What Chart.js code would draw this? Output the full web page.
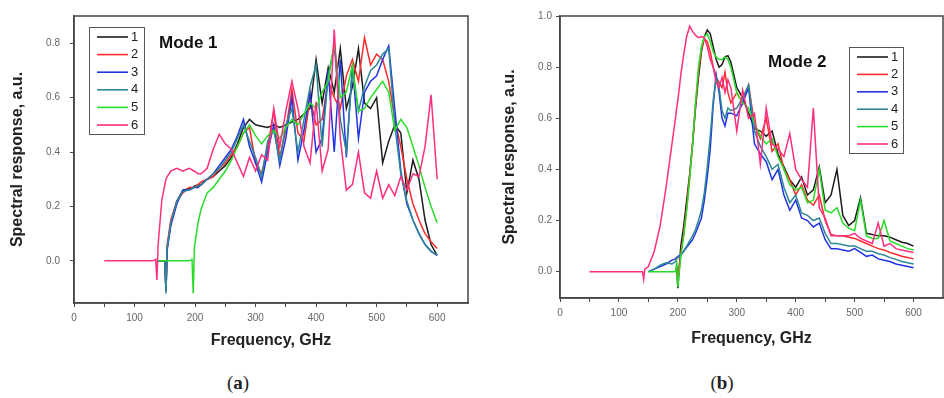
<!DOCTYPE html>
<html lang="en">
<head>
<meta charset="utf-8"/>
<title>Spectral response, Mode 1 and Mode 2</title>
<script src="https://cdn.jsdelivr.net/npm/chart.js"></script>
<style>
    body {
        margin: 0;
        background: #fff;
        font-family: 'Liberation Sans', Arial, sans-serif;
    }
    #page {
        position: relative;
        width: 944px;
        height: 398px;
        overflow: hidden;
    }
    .panel {
        position: absolute;
        top: 0;
    }
    #panelA { left: 0; }
    #panelB { left: 470px; }
    .caption {
        position: absolute;
        top: 372px;
        transform: translateX(-50%);
        font-family: 'Liberation Serif', 'DejaVu Serif', serif;
        font-size: 19px;
        color: #222;
    }
</style>
</head>
<body>
<div id="page">
    <div class="panel" id="panelA"><canvas id="chartA" width="470" height="360"></canvas></div>
    <div class="panel" id="panelB"><canvas id="chartB" width="474" height="360"></canvas></div>
    <div class="caption" style="left:238px">(<b>a</b>)</div>
    <div class="caption" style="left:722px">(<b>b</b>)</div>
</div>

<script>
// ---- data ----
const seriesNames = ['1', '2', '3', '4', '5', '6'];
const freqTicks = [0, 50, 100, 150, 200, 250, 300, 350, 400, 450, 500, 550, 600];
const respTicksA = [0, 0.2, 0.4, 0.6, 0.8];
const respTicksB = [0, 0.2, 0.4, 0.6, 0.8, 1.0];

// Mode 1 frequency grid (GHz); series that start later are aligned to its end
const freqA = [50, 100, 130, 135, 137, 139, 145, 150, 152, 154, 160, 170, 180, 190, 195, 197, 199, 205, 210,
    220, 230, 240, 250, 260, 270, 280, 290, 300, 310, 320, 330, 340, 350, 360, 370, 380, 390, 400,
    410, 420, 430, 440, 450, 460, 470, 480, 490, 500, 510, 520, 530, 540, 550, 560, 570, 580, 590, 600];

const modeA1 = [0, 0, 0, -0.11, 0.05, 0.14, 0.22, 0.26, 0.265, 0.27, 0.27, 0.275, 0.28, 0.28,
    0.30, 0.31, 0.33, 0.35, 0.38, 0.43, 0.49, 0.52, 0.50, 0.495, 0.49, 0.50, 0.49, 0.50, 0.51, 0.52, 0.54, 0.56, 0.74,
    0.58, 0.71, 0.62, 0.78, 0.56, 0.64, 0.78, 0.58, 0.56, 0.60, 0.36, 0.44, 0.50, 0.47, 0.25, 0.37, 0.30, 0.15, 0.06, 0.02];
const modeA2 = [0, 0, 0, -0.10, 0.06, 0.15, 0.22, 0.25, 0.27, 0.27, 0.27, 0.27, 0.28, 0.29,
    0.30, 0.31, 0.34, 0.36, 0.39, 0.42, 0.47, 0.49, 0.36, 0.32, 0.42, 0.55, 0.38, 0.48, 0.63, 0.47, 0.44, 0.60, 0.50,
    0.52, 0.66, 0.60, 0.56, 0.68, 0.74, 0.66, 0.82, 0.72, 0.76, 0.74, 0.66, 0.52, 0.42, 0.30, 0.21, 0.15, 0.10, 0.07, 0.045];
const modeA3 = [0, 0, 0, -0.11, 0.04, 0.13, 0.21, 0.26, 0.26, 0.265, 0.27, 0.27, 0.27, 0.28,
    0.30, 0.32, 0.35, 0.38, 0.41, 0.46, 0.52, 0.42, 0.36, 0.29, 0.40, 0.50, 0.35, 0.45, 0.60, 0.37, 0.48, 0.62, 0.40,
    0.45, 0.70, 0.40, 0.74, 0.38, 0.72, 0.45, 0.62, 0.66, 0.68, 0.74, 0.79, 0.56, 0.33, 0.21, 0.15, 0.10, 0.06, 0.035, 0.02];
const modeA4 = [0, 0, 0, -0.12, 0.05, 0.14, 0.22, 0.255, 0.26, 0.265, 0.27, 0.27, 0.275, 0.28,
    0.30, 0.32, 0.34, 0.37, 0.40, 0.45, 0.50, 0.44, 0.38, 0.31, 0.44, 0.48, 0.37, 0.50, 0.56, 0.40, 0.52, 0.64, 0.72,
    0.42, 0.68, 0.79, 0.52, 0.40, 0.70, 0.55, 0.64, 0.70, 0.72, 0.76, 0.78, 0.50, 0.32, 0.22, 0.15, 0.10, 0.06, 0.035, 0.022];
const modeA5 = [0, 0, 0, 0, 0, 0, 0, 0, 0, 0.005, -0.12, 0.05, 0.14, 0.19,
    0.25, 0.27, 0.30, 0.33, 0.37, 0.42, 0.47, 0.50, 0.46, 0.43, 0.46, 0.48, 0.45, 0.49, 0.52, 0.50, 0.54, 0.58, 0.56,
    0.62, 0.66, 0.80, 0.60, 0.62, 0.72, 0.55, 0.56, 0.60, 0.63, 0.66, 0.62, 0.48, 0.52, 0.49, 0.42, 0.35, 0.27, 0.20, 0.14];
const modeA6 = [0, 0, 0, 0.005, -0.07, 0.06, 0.22, 0.28, 0.30, 0.31, 0.33, 0.34, 0.33, 0.34, 0.335, 0.33, 0.33, 0.32, 0.32,
    0.34, 0.41, 0.465, 0.43, 0.41, 0.36, 0.31, 0.38, 0.33, 0.39, 0.37, 0.56, 0.42, 0.55, 0.66, 0.56, 0.42, 0.36, 0.585,
    0.33, 0.41, 0.85, 0.45, 0.26, 0.28, 0.40, 0.25, 0.23, 0.33, 0.23, 0.28, 0.24, 0.31, 0.26, 0.32, 0.31, 0.42, 0.61, 0.30];

// Mode 2 frequency grid (GHz)
const freqB = [50, 100, 140, 142, 144, 150, 160, 170, 180, 190, 196, 198, 200,
    205, 210, 215, 220, 225, 230, 235, 240, 245, 250, 255, 260, 265, 270, 275, 280, 285, 290,
    300, 310, 320, 330, 340, 350, 360, 370, 380, 390, 400, 410, 420, 430, 440, 450, 460, 470, 480, 490,
    500, 510, 520, 530, 540, 550, 560, 570, 580, 590, 600];

const modeB1 = [0, 0.02, -0.065,
    0.10, 0.18, 0.28, 0.38, 0.50, 0.64, 0.76, 0.86, 0.92, 0.945, 0.93, 0.88, 0.83, 0.80, 0.81, 0.84, 0.845, 0.82,
    0.72, 0.68, 0.62, 0.56, 0.55, 0.53, 0.55, 0.46, 0.41, 0.36, 0.33, 0.37, 0.30, 0.32, 0.41, 0.27, 0.30, 0.40, 0.22, 0.18,
    0.20, 0.29, 0.15, 0.145, 0.14, 0.14, 0.135, 0.125, 0.115, 0.11, 0.10];
const modeB2 = [0, 0.01, -0.03,
    0.07, 0.15, 0.25, 0.37, 0.50, 0.65, 0.78, 0.87, 0.91, 0.90, 0.86, 0.80, 0.76, 0.74, 0.72, 0.78, 0.70, 0.66,
    0.70, 0.66, 0.73, 0.58, 0.52, 0.60, 0.47, 0.50, 0.40, 0.36, 0.30, 0.34, 0.28, 0.26, 0.30, 0.20, 0.145, 0.14, 0.14, 0.135,
    0.13, 0.12, 0.11, 0.10, 0.09, 0.085, 0.075, 0.068, 0.06, 0.055, 0.05];
const modeB3 = [0, 0.01, 0.02, 0.03, 0.045, 0.05, 0.055, 0.06,
    0.065, 0.08, 0.095, 0.11, 0.125, 0.15, 0.18, 0.21, 0.28, 0.37, 0.48, 0.65, 0.77, 0.70, 0.60, 0.57, 0.62, 0.62,
    0.61, 0.66, 0.72, 0.50, 0.46, 0.43, 0.36, 0.40, 0.30, 0.24, 0.28, 0.21, 0.20, 0.175, 0.19, 0.125, 0.09, 0.09, 0.085, 0.08,
    0.09, 0.075, 0.06, 0.065, 0.05, 0.045, 0.04, 0.03, 0.025, 0.02, 0.015];
const modeB4 = [0, 0.01, 0.025, 0.035, 0.03, 0.04, 0.05, 0.055,
    0.065, 0.08, 0.10, 0.12, 0.14, 0.165, 0.20, 0.24, 0.31, 0.41, 0.53, 0.67, 0.76, 0.72, 0.63, 0.60, 0.64, 0.63,
    0.64, 0.68, 0.73, 0.55, 0.49, 0.45, 0.40, 0.42, 0.33, 0.27, 0.30, 0.23, 0.22, 0.20, 0.21, 0.15, 0.11, 0.11, 0.105, 0.10,
    0.10, 0.09, 0.08, 0.08, 0.07, 0.065, 0.055, 0.048, 0.04, 0.035, 0.03];
const modeB5 = [0, 0, 0, 0, 0, 0, 0.03, -0.06,
    0.06, 0.14, 0.24, 0.36, 0.50, 0.66, 0.80, 0.88, 0.92, 0.93, 0.90, 0.86, 0.84, 0.83, 0.83, 0.84, 0.83, 0.80,
    0.70, 0.66, 0.64, 0.58, 0.53, 0.50, 0.52, 0.45, 0.40, 0.34, 0.32, 0.33, 0.27, 0.28, 0.40, 0.24, 0.23, 0.25, 0.19, 0.17,
    0.16, 0.28, 0.14, 0.13, 0.13, 0.20, 0.12, 0.11, 0.10, 0.09, 0.085];
const modeB6 = [0, 0, 0, -0.03, 0.01, 0.02, 0.08, 0.18, 0.33, 0.50, 0.60, 0.64, 0.67,
    0.77, 0.85, 0.92, 0.96, 0.94, 0.925, 0.915, 0.92, 0.915, 0.88, 0.83, 0.80, 0.74, 0.72, 0.76, 0.70, 0.75, 0.72,
    0.55, 0.71, 0.60, 0.62, 0.42, 0.64, 0.50, 0.48, 0.45, 0.54, 0.40, 0.36, 0.33, 0.64, 0.25, 0.21, 0.14, 0.14, 0.14, 0.14,
    0.15, 0.13, 0.12, 0.11, 0.19, 0.10, 0.11, 0.09, 0.085, 0.08, 0.075];

// ---- drawing ----
const lineColors = ['#1c1c1c', '#ff2b2b', '#2233e6', '#2f8796', '#27dd27', '#ff2e7e'];
const family = "'Liberation Sans', Arial, sans-serif";

function toPoints(freq, vals) {
    // a series shorter than the grid starts later, so it lines up with the grid's end
    const off = freq.length - vals.length;
    return vals.map((v, i) => ({x: freq[off + i], y: v}));
}

// frame around the plot, boxed legend and the "Mode" label
const panelDecor = {
    id: 'panelDecor',
    afterDatasetsDraw(chart, args, opts) {
        const ctx = chart.ctx;
        const a = chart.chartArea;
        ctx.save();
        ctx.strokeStyle = '#454545';
        ctx.lineWidth = 1.5;
        ctx.strokeRect(a.left, a.top, a.right - a.left, a.bottom - a.top);

        const L = opts.legend;
        ctx.fillStyle = '#fff';
        ctx.fillRect(L.x, L.y, L.w, L.h);
        ctx.strokeStyle = '#555';
        ctx.lineWidth = 1;
        ctx.strokeRect(L.x + 0.5, L.y + 0.5, L.w, L.h);
        ctx.font = '13px ' + family;
        ctx.textBaseline = 'middle';
        chart.data.datasets.forEach((ds, i) => {
            const y = L.y + 10 + i * L.step;
            ctx.strokeStyle = ds.borderColor;
            ctx.lineWidth = 1.6;
            ctx.beginPath();
            ctx.moveTo(L.x + 8, y);
            ctx.lineTo(L.x + 39, y);
            ctx.stroke();
            ctx.fillStyle = '#222';
            ctx.fillText(ds.label, L.x + 42, y);
        });

        ctx.font = 'bold 17px ' + family;
        ctx.textBaseline = 'alphabetic';
        ctx.fillStyle = '#111';
        ctx.fillText(opts.mode.text, opts.mode.x, opts.mode.y);
        ctx.restore();
    }
};

function makeChart(id, freq, series, cfg) {
    new Chart(document.getElementById(id), {
        type: 'line',
        data: {
            datasets: series.map((vals, i) => ({
                label: seriesNames[i],
                data: toPoints(freq, vals),
                borderColor: lineColors[i],
                borderWidth: 1.5,
                pointRadius: 0,
                tension: 0,
                fill: false,
                order: 6 - i
            }))
        },
        options: {
            responsive: false,
            animation: false,
            events: [],
            layout: {padding: cfg.padding},
            scales: {
                x: {
                    type: 'linear',
                    min: 0,
                    max: cfg.xMax,
                    afterBuildTicks: s => { s.ticks = freqTicks.map(v => ({value: v})); },
                    afterFit: s => { s.height = cfg.xAxisH; },
                    ticks: {
                        autoSkip: false,
                        maxRotation: 0,
                        padding: 5,
                        color: '#666',
                        font: {size: 10, family},
                        callback: v => (v % 100 === 0 ? String(v) : '')
                    },
                    grid: {drawOnChartArea: false, drawTicks: true, tickLength: 4, color: '#454545'},
                    border: {display: true, color: '#454545', width: 1.5},
                    title: {
                        display: true,
                        text: 'Frequency, GHz',
                        color: '#222',
                        font: {size: 16, weight: 'bold', family},
                        padding: {top: 0, bottom: 0}
                    }
                },
                y: {
                    type: 'linear',
                    min: cfg.yMin,
                    max: cfg.yMax,
                    afterBuildTicks: s => { s.ticks = cfg.yTicks.map(v => ({value: v})); },
                    afterFit: s => { s.width = cfg.yAxisW; },
                    ticks: {
                        padding: cfg.yTickPad,
                        color: '#666',
                        font: {size: 10, family},
                        callback: v => v.toFixed(1)
                    },
                    grid: {drawOnChartArea: false, drawTicks: true, tickLength: 4, color: '#454545'},
                    border: {display: true, color: '#454545', width: 1.5},
                    title: {
                        display: true,
                        text: 'Spectral response, a.u.',
                        color: '#222',
                        font: {size: 16, weight: 'bold', family},
                        padding: {top: cfg.yTitlePad, bottom: 0}
                    }
                }
            },
            plugins: {
                legend: {display: false},
                tooltip: {enabled: false},
                panelDecor: {legend: cfg.legend, mode: cfg.mode}
            }
        },
        plugins: [panelDecor]
    });
}

makeChart('chartA', freqA, [modeA1, modeA2, modeA3, modeA4, modeA5, modeA6], {
    padding: {left: 0, top: 14, right: 2, bottom: 10},
    xMax: 651, yMin: -0.155, yMax: 0.9, yTicks: respTicksA,
    xAxisH: 47, yAxisW: 74, yTickPad: 10, yTitlePad: 8,
    legend: {x: 89, y: 27, w: 55, h: 107, step: 17.6},
    mode: {text: 'Mode 1', x: 159, y: 48}
});

makeChart('chartB', freqB, [modeB1, modeB2, modeB3, modeB4, modeB5, modeB6], {
    padding: {left: 0, top: 16, right: 1, bottom: 12},
    xMax: 650, yMin: -0.103, yMax: 1.0, yTicks: respTicksB,
    xAxisH: 50, yAxisW: 90, yTickPad: 4, yTitlePad: 30,
    legend: {x: 379, y: 47, w: 54, h: 106, step: 17.4},
    mode: {text: 'Mode 2', x: 298, y: 67}
});
</script>
</body>
</html>
